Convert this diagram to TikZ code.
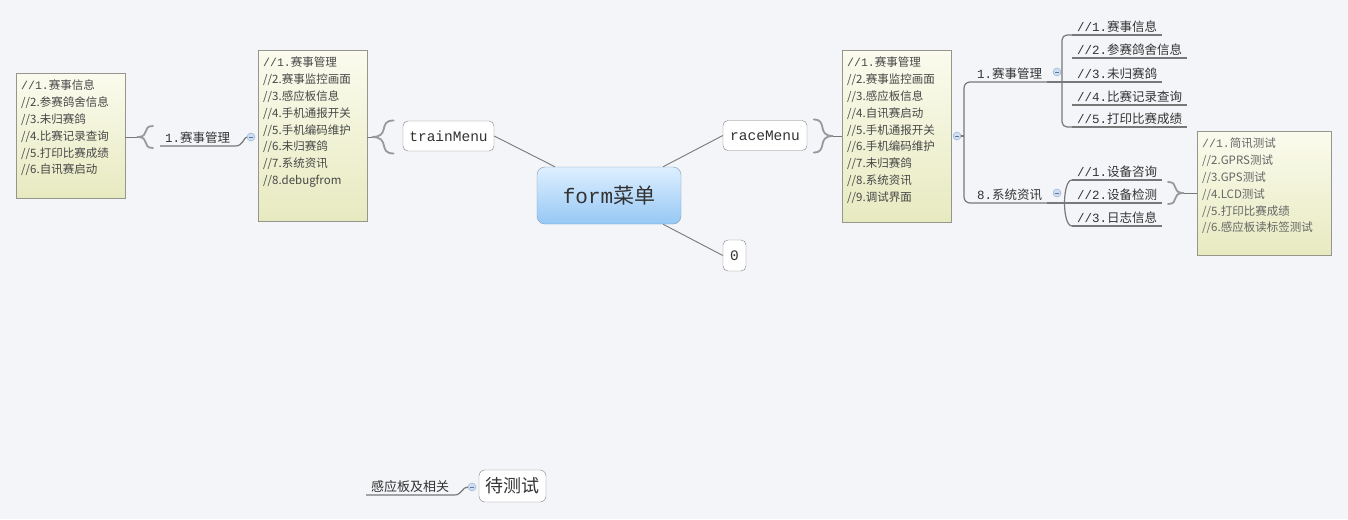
\documentclass[tikz,border=0pt]{standalone}
\usepackage{fontspec}
\setmainfont{Liberation Mono}
\newfontfamily\cjk{Noto Sans CJK SC}
% switch to the CJK family for Han characters
\XeTeXinterchartokenstate=1
\newXeTeXintercharclass\hanclass
\count255="4E00
\loop
  \XeTeXcharclass\count255=\hanclass
  \advance\count255 by 1
\ifnum\count255<"A000 \repeat
\XeTeXinterchartoks 0 \hanclass = {\cjk}
\XeTeXinterchartoks 4095 \hanclass = {\cjk}
\XeTeXinterchartoks \hanclass 0 = {\rmfamily}
\usetikzlibrary{calc}
\definecolor{canvas}{RGB}{243,245,248}
\definecolor{inkgray}{RGB}{51,51,51}
\definecolor{linkgray}{RGB}{120,120,120}
\definecolor{edgegray}{RGB}{128,128,128}
\definecolor{listtop}{RGB}{251,251,238}
\definecolor{listbottom}{RGB}{231,234,192}
\definecolor{listedge}{RGB}{150,150,140}
\definecolor{formtop}{RGB}{222,239,255}
\definecolor{formbottom}{RGB}{150,200,245}
\definecolor{formedge}{RGB}{125,155,185}
\definecolor{foldfill}{RGB}{205,222,242}
\definecolor{foldedge}{RGB}{140,170,210}

\begin{document}
\begin{tikzpicture}[x=1pt,y=-1pt,
  topic/.style={draw=edgegray,fill=white,rounded corners=5pt,text=inkgray,inner xsep=6pt,minimum height=30pt,font=\fontsize{14.5}{17}\selectfont},
  listbox/.style={draw=listedge,top color=listtop,bottom color=listbottom,anchor=north west,inner xsep=5pt,inner ysep=7pt,text=inkgray!90,font=\fontsize{11.5}{16.8}\selectfont},
  leaf/.style={anchor=south west,inner xsep=5pt,inner ysep=2pt,text=inkgray,font=\fontsize{12.5}{15}\selectfont},
  branch/.style={draw=linkgray,line width=1.2pt},
  link/.style={draw=linkgray,line width=0.9pt},
  curlyline/.style={draw=gray!80,line width=1.8pt,line cap=round},
  foldmark/.style={circle,draw=foldedge,fill=foldfill,minimum size=8pt,inner sep=0pt,path picture={\draw[foldedge!70!black,line width=0.8pt] ([xshift=-2pt]path picture bounding box.center) -- ([xshift=2pt]path picture bounding box.center);}},
  curly/.pic={\draw[curlyline] (-16,-11) .. controls (-4,-11) and (-14,0) .. (0,0) .. controls (-14,0) and (-4,11) .. (-16,11);}]
\fill[canvas] (0,0) rectangle (1348,519);
\useasboundingbox (0,0) rectangle (1348,519);

% central topic
\node[draw=formedge,top color=formtop,bottom color=formbottom,rounded corners=8pt,minimum width=144pt,minimum height=57pt,text=inkgray,font=\fontsize{21}{24}\selectfont] (form) at (609,195.5) {form菜单};
\node[topic,minimum width=91pt] (train) at (448.5,136) {trainMenu};
\node[topic,minimum width=84pt] (race) at (765,135.5) {raceMenu};
\node[topic,minimum width=23pt,inner xsep=3pt,minimum height=31pt] (zero) at (734.5,255.5) {0};
\draw[link] (train.east) -- (form.152);
\draw[link] (race.west) -- (form.28);
\draw[link] (form.332) -- (zero.west);

% trainMenu side
\coordinate (trainbrace) at (372,137);
\pic[xscale=-1.35,yscale=1.5] at (trainbrace) {curly};
\node[listbox] (trainlist) at (258,50) {\parbox[t][157pt][t]{99pt}{//1.赛事管理\\//2.赛事监控画面\\//3.感应板信息\\//4.手机通报开关\\//5.手机编码维护\\//6.未归赛鸽\\//7.系统资讯\\//8.debugfrom}};
\draw[link] (trainbrace) -- (trainbrace -| trainlist.east);
\node[foldmark] (trainfold) at (251,137) {};
\node[leaf] (lsub) at (160,146) {1.赛事管理};
\draw[branch] (lsub.south west) -- (lsub.south east) .. controls (243,146) and (244,137) .. (trainfold.west);
\coordinate (leftbrace) at (137,137);
\pic[xscale=-1] at (leftbrace) {curly};
\node[listbox] (leftlist) at (16,73) {\parbox[t][111pt][t]{99pt}{//1.赛事信息\\//2.参赛鸽舍信息\\//3.未归赛鸽\\//4.比赛记录查询\\//5.打印比赛成绩\\//6.自讯赛启动}};
\draw[link] (leftbrace) -- (leftbrace -| leftlist.east);

% raceMenu side
\coordinate (racebrace) at (833,136);
\pic[xscale=1.2,yscale=1.5] at (racebrace) {curly};
\node[listbox] (racelist) at (842,50) {\parbox[t][158pt][t]{99pt}{//1.赛事管理\\//2.赛事监控画面\\//3.感应板信息\\//4.自讯赛启动\\//5.手机通报开关\\//6.手机编码维护\\//7.未归赛鸽\\//8.系统资讯\\//9.调试界面}};
\draw[link] (racebrace) -- (racebrace -| racelist.west);
\node[foldmark] (racefold) at (957,136) {};
\coordinate (racetrunk) at (964,136);
\node[leaf] (rsub1) at (972,82) {1.赛事管理};
\node[leaf] (rsub8) at (972,203) {8.系统资讯};
\draw[branch,rounded corners=6pt] (rsub1.south east) -| (racetrunk) |- (rsub8.south east);
\draw[branch] (racefold) -- (racetrunk);

% 1.赛事管理
\node[foldmark] (sub1fold) at (1057,72) {};
\coordinate (sub1trunk) at (1062,82);
\node[leaf] (r1a) at (1072,35) {//1.赛事信息};
\node[leaf] (r1b) at (1072,58) {//2.参赛鸽舍信息};
\node[leaf] (r1c) at (1072,82) {//3.未归赛鸽};
\node[leaf] (r1d) at (1072,105) {//4.比赛记录查询};
\node[leaf] (r1e) at (1072,127) {//5.打印比赛成绩};
\foreach \n in {r1a,r1b,r1c,r1d,r1e}
  \draw[branch] (\n.south west) -- (\n.south east);
\draw[branch,rounded corners=5pt] (r1a.south west) -| (sub1trunk) |- (r1e.south west);
\draw[branch] (rsub1.south east) -- (r1c.south west);

% 8.系统资讯
\node[foldmark] (sub8fold) at (1057,193) {};
\node[leaf] (r8a) at (1072,180) {//1.设备咨询};
\node[leaf] (r8b) at (1072,203) {//2.设备检测};
\node[leaf] (r8c) at (1072,226) {//3.日志信息};
\foreach \n in {r8a,r8b,r8c}
  \draw[branch] (\n.south west) -- (\n.south east);
\draw[branch] (r8a.south west) .. controls (1062,180) and (1062,226) .. (r8c.south west);
\draw[branch] (rsub8.south east) -- (r8b.south west);
\coordinate (testbrace) at (1184,193);
\pic at (testbrace) {curly};
\node[listbox,text=inkgray!75] (testlist) at (1197,131) {\parbox[t][110pt][t]{124pt}{//1.简讯测试\\//2.GPRS测试\\//3.GPS测试\\//4.LCD测试\\//5.打印比赛成绩\\//6.感应板读标签测试}};
\draw[link] (testbrace) -- (testbrace -| testlist.west);

% floating topic
\node[topic,minimum width=67pt,minimum height=32pt,rounded corners=6pt,font=\fontsize{18}{20}\selectfont] (pending) at (512.5,486) {待测试};
\node[foldmark] (pendfold) at (472,487) {};
\node[leaf,font=\fontsize{13}{15}\selectfont] (sensor) at (366,495) {感应板及相关};
\draw[branch] (sensor.south west) -- (sensor.south east) .. controls (462,495) and (462,487) .. (pendfold.west);
\end{tikzpicture}
\end{document}
